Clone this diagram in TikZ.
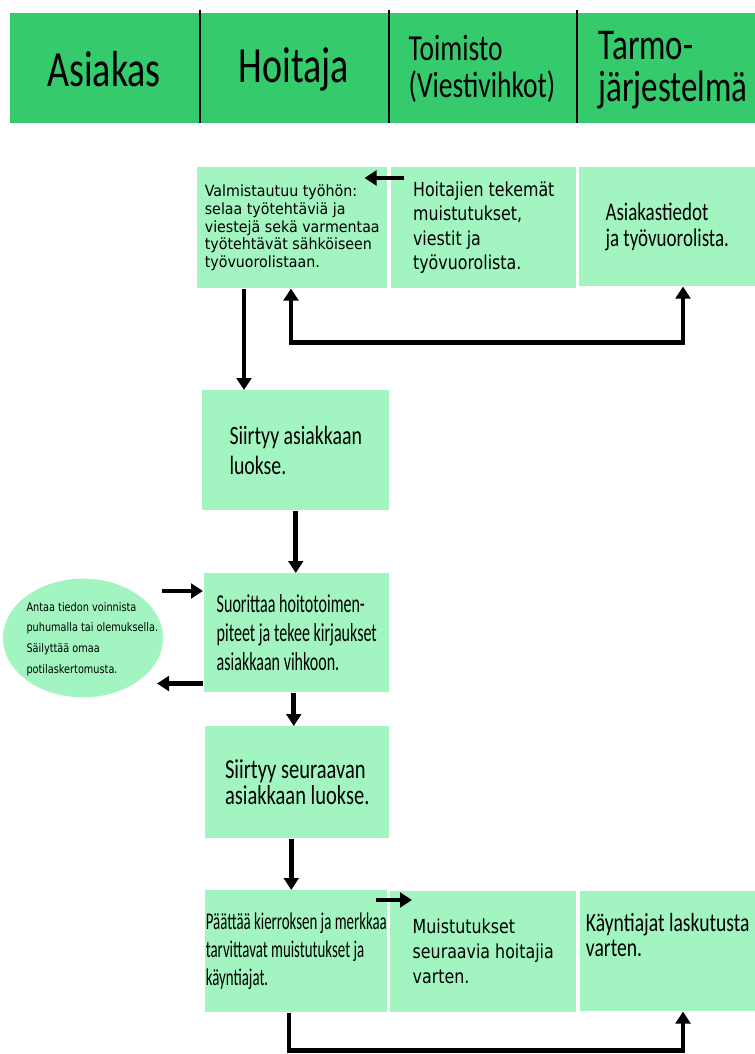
\documentclass[tikz,border=0pt]{standalone}
\usepackage{fontspec}
\usepackage{tikz}
\usetikzlibrary{arrows.meta,calc,positioning,shapes.geometric}
\setmainfont{Carlito}
\newfontfamily\calw{Carlito}[FakeStretch=0.75]
\newfontfamily\caln{Carlito}[FakeStretch=0.62]
\newfontfamily\tahw{DejaVu Sans}[FakeStretch=0.92]
\newfontfamily\tahn{DejaVu Sans}[FakeStretch=0.82]
\definecolor{lanegreen}{HTML}{35CA6B}
\definecolor{mint}{HTML}{A2F5C0}

\tikzset{
    card/.style={fill=mint, inner sep=0pt, align=left, anchor=north west},
    sz/.style 2 args={minimum width=#1*0.75pt, minimum height=#2*0.75pt},
    flow/.style={line width=3.6pt, -{Triangle[length=9pt,width=11pt]}},
    lane/.style={font=\calw\fontsize{38}{40}\selectfont}
}

\begin{document}
\begin{tikzpicture}[x=0.75pt,y=-0.75pt]
    \useasboundingbox (0,0) rectangle (755,1054);
    % swimlane header
    \fill[lanegreen] (10,13) rectangle (755,123);
    \foreach \x in {200,389,577}
    {
        \draw[line width=1.6pt] (\x,10) -- (\x,123);
    }
    \node[lane] (hAsiakas) at (104,69) {Asiakas};
    \node[lane] (hHoitaja) at (294,69) {Hoitaja};
    \node[anchor=west, align=left, font=\calw\fontsize{27.5}{28}\selectfont]
        (hToimisto) at (404,69) {Toimisto\\(Viestivihkot)};
    \node[anchor=west, align=left, font=\calw\fontsize{33}{31}\selectfont]
        (hTarmo) at (594,70) {Tarmo-\\järjestelmä};

    % boxes
    \node[card, sz={190}{121}, font=\tahw\fontsize{11.6}{13.4}\selectfont] (valmis) at (197,167)
        {Valmistautuu työhön:\\selaa työtehtäviä ja\\viestejä sekä varmentaa\\työtehtävät sähköiseen\\työvuorolistaan.};
    \node[card, sz={185}{121}, font=\tahn\fontsize{14.5}{18.3}\selectfont] (muist) at (391,167)
        {Hoitajien tekemät\\muistutukset,\\viestit ja\\työvuorolista.};
    \node[card, sz={176}{119}, font=\calw\fontsize{19}{20}\selectfont] (tiedot) at (579,167)
        {Asiakastiedot\\ja työvuorolista.};
    \node[card, sz={187}{120}, font=\calw\fontsize{19.8}{22.5}\selectfont] (siirtyy) at (202,390)
        {Siirtyy asiakkaan\\luokse.};
    \node[card, sz={185}{119}, font=\caln\fontsize{19.4}{21.75}\selectfont] (suorittaa) at (204,573)
        {Suorittaa hoitotoimen-\\piteet ja tekee kirjaukset\\asiakkaan vihkoon.};
    \node[fill=mint, ellipse, inner xsep=-25pt, inner ysep=-12pt,
        minimum width=120pt, minimum height=89pt,
        font=\tahn\fontsize{8.9}{15.5}\selectfont] (asiakas) at (83,638)
        {\hspace{14pt}\begin{tabular}{@{}l@{}}Antaa tiedon voinnista\\puhumalla tai olemuksella.\\Säilyttää omaa\\potilaskertomusta.\end{tabular}};
    \node[card, sz={184}{112}, font=\calw\fontsize{20.5}{19.5}\selectfont] (seuraava) at (205,726)
        {Siirtyy seuraavan\\asiakkaan luokse.};
    \node[card, sz={182}{122}, font=\caln\fontsize{18}{21}\selectfont] (paattaa) at (205,890)
        {Päättää kierroksen ja merkkaa\\tarvittavat muistutukset ja\\käyntiajat.};
    \node[card, sz={186}{121}, font=\tahn\fontsize{14.5}{18.75}\selectfont] (muist2) at (390,891)
        {Muistutukset\\seuraavia hoitajia\\varten.};
    \node[card, sz={175}{120}, font=\calw\fontsize{19.6}{18.75}\selectfont] (kaynti) at (580,891)
        {Käyntiajat laskutusta\\varten.\\[6pt]};

    % connectors
    \draw[flow] ($(muist.north west)+(13,11)$) -- ($(valmis.north east)+(-23,11)$);
    \coordinate (p1) at ($(valmis.south west)+(47,0)$);
    \draw[flow] (p1) -- (p1 |- siirtyy.north);
    \coordinate (q1) at ($(valmis.south west)+(94,0)$);
    \coordinate (q2) at ($(tiedot.south west)+(104,0)$);
    \draw[flow, {Triangle[length=9pt,width=11pt]}-{Triangle[length=9pt,width=11pt]}]
        (q1) -- ++(0,54) -| (q2);
    \draw[flow] (siirtyy.south) -- (siirtyy.south |- suorittaa.north);
    \draw[flow] ($(suorittaa.north west)+(-42,18)$) -- ($(suorittaa.north west)+(-1,18)$);
    \draw[flow] ($(suorittaa.south west)+(-1,-9)$) -- ($(suorittaa.south west)+(-47,-9)$);
    \coordinate (s1) at ($(suorittaa.south)+(-3,0)$);
    \draw[flow] (s1) -- (s1 |- seuraava.north);
    \coordinate (s2) at ($(seuraava.south)+(-6,0)$);
    \draw[flow] (s2) -- (s2 |- paattaa.north);
    \draw[flow] ($(paattaa.north east)+(-12,10)$) -- ($(muist2.north west)+(22,9)$);
    \coordinate (r1) at ($(paattaa.south west)+(84,0)$);
    \coordinate (r2) at ($(kaynti.south west)+(103,0)$);
    \draw[flow] (r1) -- ++(0,38) -| (r2);
\end{tikzpicture}
\end{document}
